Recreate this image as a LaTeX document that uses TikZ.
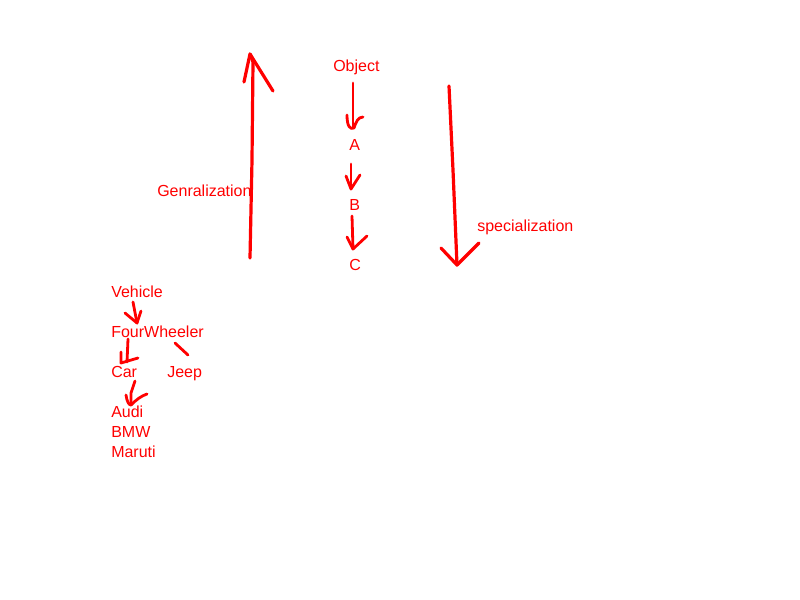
\documentclass[tikz,border=0pt]{standalone}
\usepackage{fontspec}
\setmainfont{Liberation Sans}
\begin{document}
\begin{tikzpicture}[x=0.75pt,y=-0.75pt,
  lbl/.style={text=red,font=\fontsize{12pt}{14pt}\selectfont,inner sep=0pt,anchor=base west},
  stroke/.style={draw=red,line width=2.4pt,line cap=round,line join=round},
  thin/.style={draw=red,line width=2.1pt,line cap=round,line join=round}]
\fill[white] (0,0) rectangle (800,600);
\useasboundingbox (0,0) rectangle (800,600);
% labels
\node[lbl] (obj) at (333,71) {Object};
\node[lbl] (a) at (349,150) {A};
\node[lbl] (b) at (349,210) {B};
\node[lbl] (c) at (349,270) {C};
\node[lbl] (gen) at (157,196) {Genralization};
\node[lbl] (spec) at (477,231) {specialization};
\node[lbl] (veh) at (111,297) {Vehicle};
\node[lbl] (fw) at (111,337) {FourWheeler};
\node[lbl] (car) at (111,377) {Car};
\node[lbl] (jeep) at (167,377) {Jeep};
\node[lbl] (audi) at (111,417) {Audi};
\node[lbl] (bmw) at (111,437) {BMW};
\node[lbl] (mar) at (111,457) {Maruti};
% generalization arrow (up)
\draw[stroke] (250,258) -- (252,160) -- (253,62) -- (250,54);
\draw[stroke] (244,82) -- (250,54) -- (273,91);
% specialization arrow (down)
\draw[stroke] (449,86) -- (453,170) -- (457,265);
\draw[stroke] (441,248) -- (457,265) -- (479,243);
% Object -> A
\draw[thin] (353,83) -- (353,127);
\draw[thin] (347,115) .. controls (347,126) and (350,130) .. (354,128) .. controls (356,122) and (358,117) .. (363,117);
% A -> B
\draw[thin] (351,164) -- (351,189);
\draw[thin] (346,176) -- (351,189) -- (360,175);
% B -> C
\draw[thin] (352,216) -- (353,249);
\draw[thin] (347,237) -- (353,249) -- (367,236);
% Vehicle -> FourWheeler
\draw[thin] (133,302) -- (137,323);
\draw[thin] (125,313) -- (137,323) -- (141,311);
% FourWheeler -> Car
\draw[thin] (128,339) -- (127,362);
\draw[thin] (121,352) -- (121,363) -- (138,358);
% FourWheeler -- Jeep
\draw[thin] (175,343) -- (188,355);
% Car -> Audi
\draw[thin] (135,381) -- (131,393) -- (131,405);
\draw[thin] (126,395) .. controls (127,402) and (129,405) .. (131,405) .. controls (136,400) and (141,396) .. (147,394);
\end{tikzpicture}
\end{document}
